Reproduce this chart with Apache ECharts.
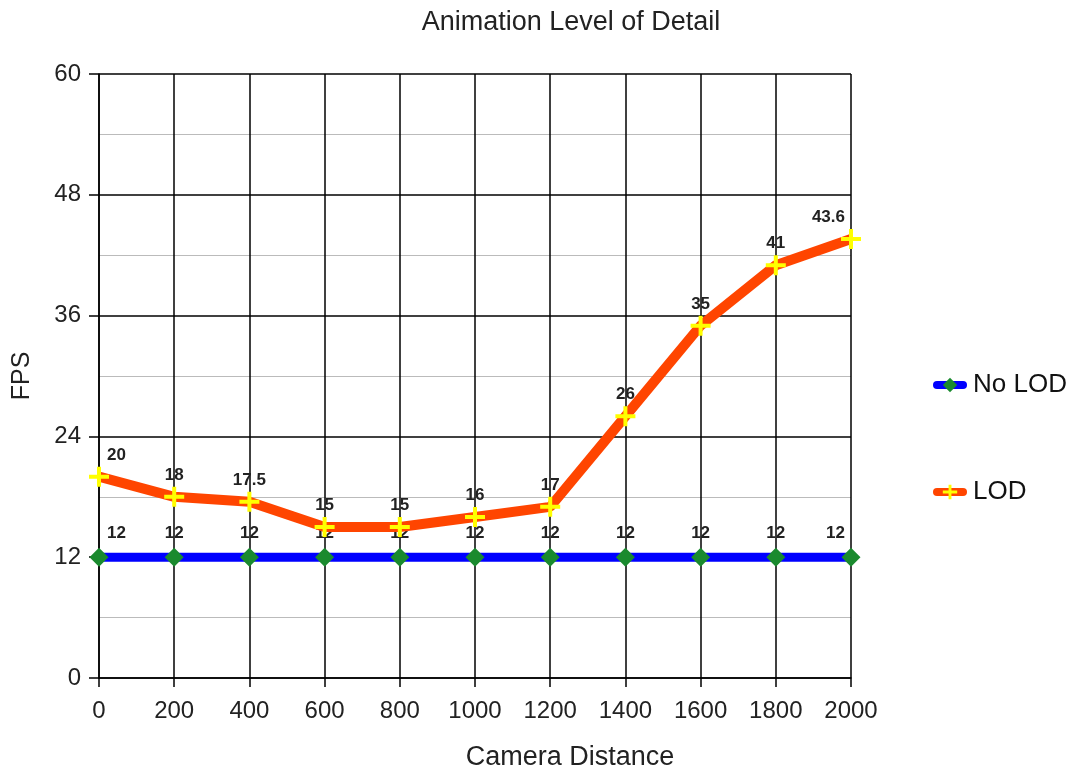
<!DOCTYPE html>
<html><head><meta charset="utf-8">
<script src="https://cdn.jsdelivr.net/npm/echarts@6/dist/echarts.min.js"></script>
<style>html,body{margin:0;padding:0;background:#fff}#c{width:1073px;height:772px}</style>
</head><body><div id="c"></div>
<script>
const distances = [0,200,400,600,800,1000,1200,1400,1600,1800,2000];
const noLod = [12,12,12,12,12,12,12,12,12,12,12];
const lod = [20,18,17.5,15,15,16,17,26,35,41,43.6];
const yTicks = [0,12,24,36,48,60];

const font = 'Liberation Sans, Arial, sans-serif';
function mkData(vals){
  return vals.map((v,i)=>{
    const d = {value:[distances[i], v]};
    if(i===0) d.label = {align:'left', offset:[8,0]};
    if(i===vals.length-1) d.label = {align:'right', offset:[-6,0]};
    return d;
  });
}
function labelStyle(dist){
  return {show:true, position:'top', distance:dist, color:'#222', fontWeight:'bold', fontSize:17, fontFamily:font};
}
const plus = 'path://M4,0h2v4h4v2h-4v4h-2v-4h-4v-2h4z';
const chart = echarts.init(document.getElementById('c'), null, {renderer:'canvas'});
chart.setOption({
  animation:false,
  backgroundColor:'#fff',
  title:{text:'Animation Level of Detail', left:566, top:4, textAlign:'center',
    textStyle:{fontFamily:font, fontWeight:'normal', fontSize:27, color:'#222'}},
  grid:{left:99, right:222, top:74, bottom:94, containLabel:false, outerBoundsMode:'none'},
  legend:{orient:'vertical', left:928, top:367, itemGap:81, itemWidth:26, itemHeight:18,
    textStyle:{fontFamily:font, fontSize:26, color:'#111', padding:[0,0,0,5]},
    data:[{name:'No LOD', lineStyle:{width:8, cap:'round'}},{name:'LOD', lineStyle:{width:8, cap:'round'}}]},
  xAxis:{type:'value', min:0, max:2000, interval:200,
    name:'Camera Distance', nameLocation:'middle', nameGap:66,
    nameTextStyle:{fontFamily:font, fontSize:27, color:'#222', padding:[0,0,0,190]},
    axisLine:{lineStyle:{color:'#000', width:1.5}},
    axisTick:{show:true, length:9, lineStyle:{color:'#000', width:1.5}},
    axisLabel:{fontFamily:font, fontSize:24, color:'#222', margin:21, formatter:v=>String(v)},
    splitLine:{show:true, lineStyle:{color:'#000', width:1.5}}},
  yAxis:{type:'value', min:0, max:60, interval:12,
    name:'FPS', nameLocation:'middle', nameGap:64, nameRotate:90,
    nameTextStyle:{fontFamily:font, fontSize:25, color:'#222'},
    axisLine:{show:true, lineStyle:{color:'#000', width:1.5}},
    axisTick:{show:true, length:10, lineStyle:{color:'#000', width:1.5}},
    axisLabel:{fontFamily:font, fontSize:24, color:'#222', margin:18,
      formatter:v=>yTicks.includes(v)?String(v):''},
    splitLine:{show:true, lineStyle:{color:'#000', width:1.5}},
    minorTick:{show:false, splitNumber:2},
    minorSplitLine:{show:true, lineStyle:{color:'#bbb', width:1}}},
  series:[
    {name:'No LOD', type:'line', data:mkData(noLod), symbol:'diamond', symbolSize:19,
      itemStyle:{color:'#1a8a2e'}, lineStyle:{color:'#0000ff', width:9},
      label:labelStyle(6), z:3},
    {name:'LOD', type:'line', data:mkData(lod), symbol:plus, symbolSize:20,
      itemStyle:{color:'#ffff00'}, lineStyle:{color:'#ff4500', width:10},
      label:labelStyle(3), z:4}
  ]
});
</script></body></html>
